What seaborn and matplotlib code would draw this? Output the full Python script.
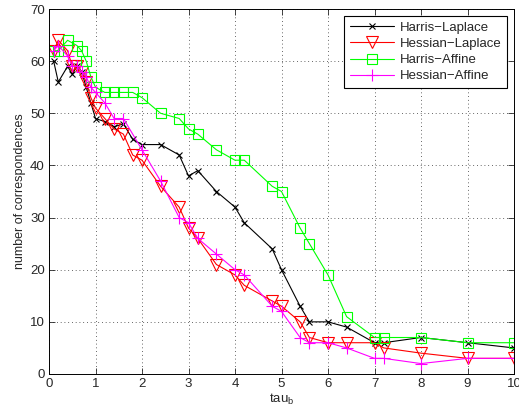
import matplotlib
matplotlib.use("Agg")
import matplotlib.pyplot as plt
import seaborn as sns
import pandas as pd

# ---- data ----
hl_x = [0.1, 0.2, 0.4, 0.5, 0.6, 0.7, 0.8, 0.9, 1.0, 1.2, 1.4, 1.6, 1.8, 2.0, 2.4, 2.8,
        3.0, 3.2, 3.6, 4.0, 4.2, 4.8, 5.0, 5.4, 5.6, 6.0, 6.4, 7.0, 7.2, 8.0, 9.0, 10.0]
hl_y = [60, 56, 59, 57.5, 59, 58, 55, 52, 49, 48.4, 47.4, 48, 45, 44, 44, 42,
        38, 39, 35, 32, 29, 24, 20, 13, 10, 10, 9, 6, 6, 7, 6, 5]

hsl_x = [0.1, 0.2, 0.4, 0.5, 0.6, 0.7, 0.8, 0.9, 1.0, 1.2, 1.4, 1.6, 1.8, 2.0, 2.4, 2.8,
         3.0, 3.2, 3.6, 4.0, 4.2, 4.8, 5.0, 5.4, 5.6, 6.0, 6.4, 7.0, 7.2, 8.0, 9.0, 10.0]
hsl_y = [62, 64, 62, 59, 59, 58, 56, 53, 51, 49, 47, 46, 42, 41, 36, 32,
         28, 26, 21, 19, 17, 14, 13, 10, 7, 6, 6, 6, 5, 4, 3, 3]

ha_x = [0.1, 0.2, 0.4, 0.6, 0.7, 0.8, 0.9, 1.0, 1.2, 1.4, 1.6, 1.8, 2.0, 2.4, 2.8, 3.0,
        3.2, 3.6, 4.0, 4.2, 4.8, 5.0, 5.4, 5.6, 6.0, 6.4, 7.0, 7.2, 8.0, 9.0, 10.0]
ha_y = [62, 62, 64, 63, 62, 60, 57, 55, 54, 54, 54, 54, 53, 50, 49, 47,
        46, 43, 41, 41, 36, 35, 28, 25, 19, 11, 7, 7, 7, 6, 6]

hsa_x = [0.1, 0.2, 0.4, 0.5, 0.6, 0.7, 0.8, 0.9, 1.0, 1.2, 1.4, 1.6, 2.0, 2.4, 2.8, 3.0,
         3.2, 3.6, 4.0, 4.2, 4.8, 5.0, 5.4, 5.6, 6.0, 6.4, 7.0, 7.2, 8.0, 9.0, 10.0]
hsa_y = [62, 63, 61, 59, 59, 58, 57, 55, 54, 52, 49, 49, 43, 37, 30, 29,
         26, 23, 20, 19, 13, 12, 7, 6, 6, 5, 3, 3, 2, 3, 3]

series_names = ["Harris\u2212Laplace", "Hessian\u2212Laplace", "Harris\u2212Affine", "Hessian\u2212Affine"]
x_ticks = [0, 1, 2, 3, 4, 5, 6, 7, 8, 9, 10]
y_ticks = [0, 10, 20, 30, 40, 50, 60, 70]

# ---- plot ----
sns.set_style("white")
plt.rcParams["font.family"] = ["Liberation Sans", "DejaVu Sans"]

fig = plt.figure(figsize=(5.19, 4.12), dpi=100)
ax = fig.add_axes([49 / 519, 38 / 412, 465 / 519, 365 / 412])

styles = [
    (hl_x, hl_y, "black", "x", 5),
    (hsl_x, hsl_y, "#ff0000", "v", 8),
    (ha_x, ha_y, "#00ff00", "s", 7),
    (hsa_x, hsa_y, "#ff00ff", "+", 8),
]
for name, (xs, ys, col, mk, ms) in zip(series_names, styles):
    df = pd.DataFrame({"x": xs, "y": ys})
    sns.lineplot(data=df, x="x", y="y", ax=ax, color=col, marker=mk,
                 markersize=ms, markerfacecolor="none", markeredgecolor=col,
                 markeredgewidth=0.8, linewidth=0.8, estimator=None, sort=False,
                 label=name)

ax.set_xlim(0, 10)
ax.set_ylim(0, 70)
ax.set_xticks(x_ticks)
ax.set_yticks(y_ticks)
ax.tick_params(direction="in", length=4, width=0.6, labelsize=9.5,
               top=True, right=True, bottom=True, left=True, pad=3)
ax.grid(True, linestyle=(0, (1, 3.5)), color="#333333", linewidth=0.6)
for s in ax.spines.values():
    s.set_color("black")
    s.set_linewidth(0.7)
ax.set_xlabel(r"tau$_\mathregular{b}$", fontsize=9.5, labelpad=1)
ax.set_ylabel("number of correspondences", fontsize=9, labelpad=3)

leg = ax.legend(loc="upper right", fontsize=9.5, frameon=True, fancybox=False,
                edgecolor="black", framealpha=1, handlelength=3.4,
                borderaxespad=0.55, labelspacing=0.3, borderpad=0.4,
                handletextpad=0.4)
leg.get_frame().set_linewidth(0.8)

fig.savefig("out.png", dpi=100)
